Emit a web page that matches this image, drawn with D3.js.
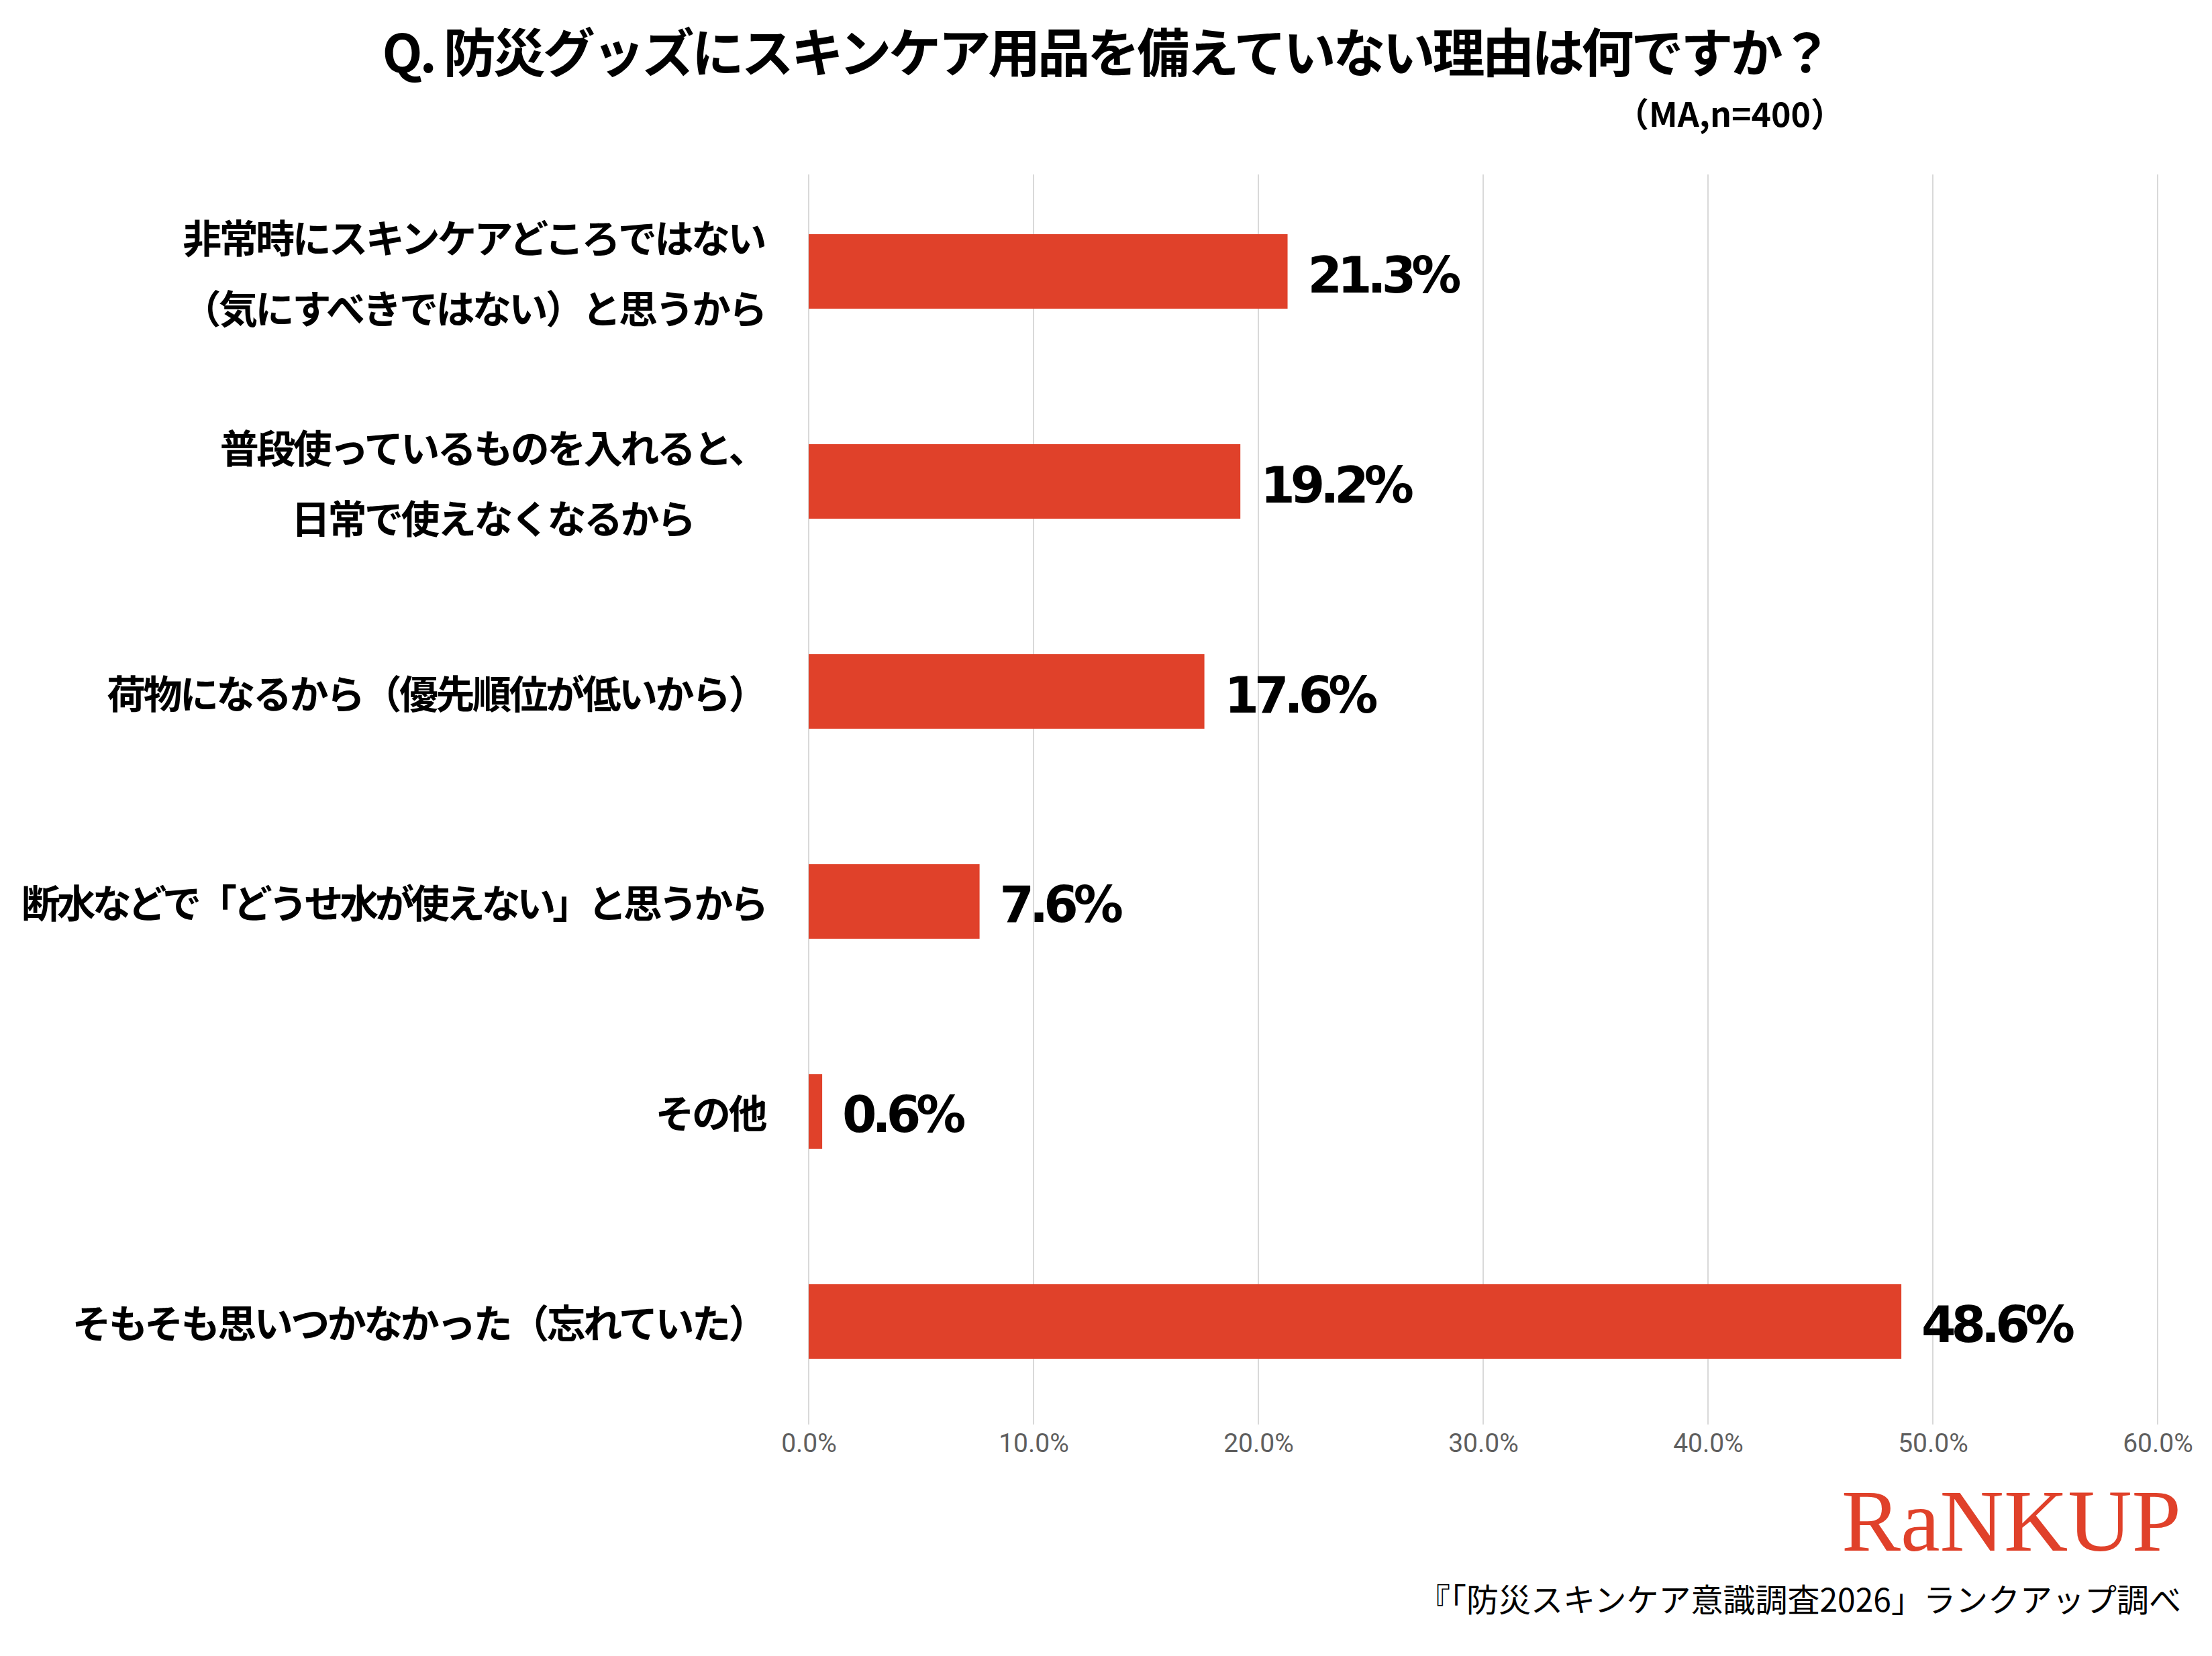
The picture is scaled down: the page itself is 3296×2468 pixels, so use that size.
<!DOCTYPE html>
<html>
<head>
<meta charset="utf-8">
<title>防災グッズにスキンケア用品を備えていない理由</title>
<script src="https://d3js.org/d3.v7.min.js"></script>
<style>
  body { margin: 0; background: #fff; }
  svg { display: block; }
</style>
</head>
<body>
<svg id="chart" width="3296" height="2468"></svg>
<script>
// data
const categories = [
  "非常時にスキンケアどころではない\n（気にすべきではない）と思うから",
  "普段使っているものを入れると、\n日常で使えなくなるから",
  "荷物になるから（優先順位が低いから）",
  "断水などで「どうせ水が使えない」と思うから",
  "その他",
  "そもそも思いつかなかった（忘れていた）"
];
const values = [21.3, 19.2, 17.6, 7.6, 0.6, 48.6];
const tickValues = [0, 10, 20, 30, 40, 50, 60];

const titleText = "Q. 防災グッズにスキンケア用品を備えていない理由は何ですか？";
const noteText = "（MA,n=400）";
const sourceText = "『「防災スキンケア意識調査2026」ランクアップ調べ";
const logoText = "RaNKUP";

const W = 3296, H = 2468;
const barColor = "#E0412A";
const jp = "'Noto Sans CJK JP', 'Noto Sans', sans-serif";

const svg = d3.select("#chart");
svg.append("rect").attr("width", W).attr("height", H).attr("fill", "#fff");

const x = d3.scaleLinear().domain([0, 60]).range([1205, 3215]);
const y = d3.scaleBand().domain(categories).range([252, 2122])
  .paddingInner(0.645).paddingOuter(0.31);

// gridlines
svg.append("g").selectAll("line").data(tickValues).join("line")
  .attr("x1", d => x(d)).attr("x2", d => x(d))
  .attr("y1", 260).attr("y2", 2123)
  .attr("stroke", "#d9d9d9").attr("stroke-width", 2);

// x axis labels
const xAxis = d3.axisBottom(x).tickValues(tickValues)
  .tickFormat(d => d.toFixed(1) + "%").tickSize(0).tickPadding(0);
const gx = svg.append("g").attr("transform", "translate(0,2136)").call(xAxis);
gx.select(".domain").remove();
gx.selectAll("text")
  .attr("font-family", "Roboto, 'Liberation Sans', sans-serif")
  .attr("font-size", 39).attr("fill", "#5f5f5f");

// bars
svg.append("g").selectAll("rect").data(values).join("rect")
  .attr("x", x(0))
  .attr("y", (d, i) => y(categories[i]))
  .attr("width", d => x(d) - x(0))
  .attr("height", y.bandwidth())
  .attr("fill", barColor);

// value labels
svg.append("g").selectAll("text").data(values).join("text")
  .attr("x", d => x(d) + 30)
  .attr("y", (d, i) => y(categories[i]) + y.bandwidth() / 2 + 31)
  .attr("font-family", "'DejaVu Sans', sans-serif")
  .attr("font-weight", 700).attr("font-size", 74)
  .attr("letter-spacing", -7)
  .attr("fill", "#000")
  .text(d => d.toFixed(1) + "%");

// category labels: block right aligned, lines centred inside the block
const labelRight = 1140, labelLeft = 32, lineGap = 105, baseSpacing = -3.5;
categories.forEach(c => {
  const lines = c.split("\n");
  const cy = y(c) + y.bandwidth() / 2;
  const g = svg.append("g");
  const t = g.selectAll("text").data(lines).join("text")
    .attr("y", (d, i) => cy + (i - (lines.length - 1) / 2) * lineGap)
    .attr("dominant-baseline", "central")
    .attr("text-anchor", "middle")
    .attr("font-family", jp).attr("font-weight", 700)
    .attr("font-size", 58).attr("letter-spacing", baseSpacing)
    .attr("fill", "#000")
    .text(d => d);
  // tighten a label that would run past the left margin
  t.each(function (d) {
    const w = this.getComputedTextLength();
    const room = labelRight - labelLeft;
    if (w > room) {
      d3.select(this).attr("letter-spacing", baseSpacing - (w - room) / d.length);
    }
  });
  const maxW = d3.max(t.nodes(), n => n.getComputedTextLength());
  t.attr("x", labelRight - maxW / 2);
});

// title and note
svg.append("text")
  .attr("x", W / 2).attr("y", 108)
  .attr("text-anchor", "middle")
  .attr("font-family", jp).attr("font-weight", 700)
  .attr("font-size", 78).attr("letter-spacing", -4)
  .text(titleText);

svg.append("text")
  .attr("x", 2748).attr("y", 189)
  .attr("text-anchor", "end")
  .attr("font-family", jp).attr("font-weight", 700)
  .attr("font-size", 50)
  .text(noteText);

// logo and source
svg.append("text")
  .attr("x", 3250).attr("y", 2311)
  .attr("text-anchor", "end")
  .attr("font-family", "'Liberation Serif', 'DejaVu Serif', serif")
  .attr("font-size", 132).attr("fill", barColor)
  .text(logoText);

svg.append("text")
  .attr("x", 3250).attr("y", 2402)
  .attr("text-anchor", "end")
  .attr("font-family", jp).attr("font-weight", 400)
  .attr("font-size", 48)
  .attr("fill", "#000")
  .text(sourceText);
</script>
</body>
</html>
